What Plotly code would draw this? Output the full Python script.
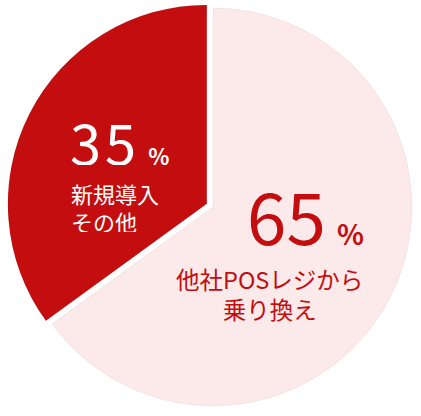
import plotly.graph_objects as go

# 導入経緯の割合
labels = ["他社POSレジから乗り換え", "新規導入・その他"]
values = [65, 35]
colors = ["#fce9ea", "#c30d0e"]
pulls = [0, 0.035]

W, H = 421, 416
FONT = "Noto Sans CJK JP"
RED = "#c30d0e"


def px_x(x):
    return x / W


def px_y(y):
    return 1 - y / H


fig = go.Figure(
    go.Pie(
        labels=labels,
        values=values,
        sort=False,
        direction="clockwise",
        rotation=0,
        pull=pulls,
        marker=dict(colors=colors, line=dict(color="rgba(0,0,0,0.05)", width=1)),
        textinfo="none",
        hoverinfo="label+percent",
        domain=dict(x=[0.017, 0.995], y=[0.007, 0.998]),
        showlegend=False,
    )
)

annotations = [
    # 35%
    dict(
        text="<span style='letter-spacing:4px'>35</span>"
             "<span style='font-size:36px'>\u00a0</span>"
             "<span style='font-size:22px'><b>%</b></span>",
        x=px_x(69), y=px_y(140), height=50,
        xanchor="left", yanchor="middle", valign="middle",
        font=dict(family=FONT, size=56, color="white"),
    ),
    dict(
        text="新規導入<br>その他",
        x=px_x(70), y=px_y(207), height=50,
        xanchor="left", yanchor="middle", align="left", valign="middle",
        font=dict(family=FONT, size=22, color="white"),
    ),
    # 65%
    dict(
        text="65<span style='font-size:50px'>\u00a0</span>"
             "<span style='font-size:28px'><b>%</b></span>",
        x=px_x(246), y=px_y(214), height=66,
        xanchor="left", yanchor="middle", valign="middle",
        font=dict(family=FONT, size=71, color=RED),
    ),
    dict(
        text="他社POSレジから<br>乗り換え",
        x=px_x(269), y=px_y(294), height=56,
        xanchor="center", yanchor="middle", align="center", valign="middle",
        font=dict(family=FONT, size=23.5, color=RED),
    ),
]
for a in annotations:
    a.update(xref="paper", yref="paper", showarrow=False, borderpad=0)

fig.update_layout(
    width=W,
    height=H,
    margin=dict(l=0, r=0, t=0, b=0),
    paper_bgcolor="white",
    plot_bgcolor="white",
    annotations=annotations,
)

# ページ余白をなくす
fig.write_html(
    "out.html",
    config={"displayModeBar": False},
    post_script="document.body.style.margin='0';",
)
